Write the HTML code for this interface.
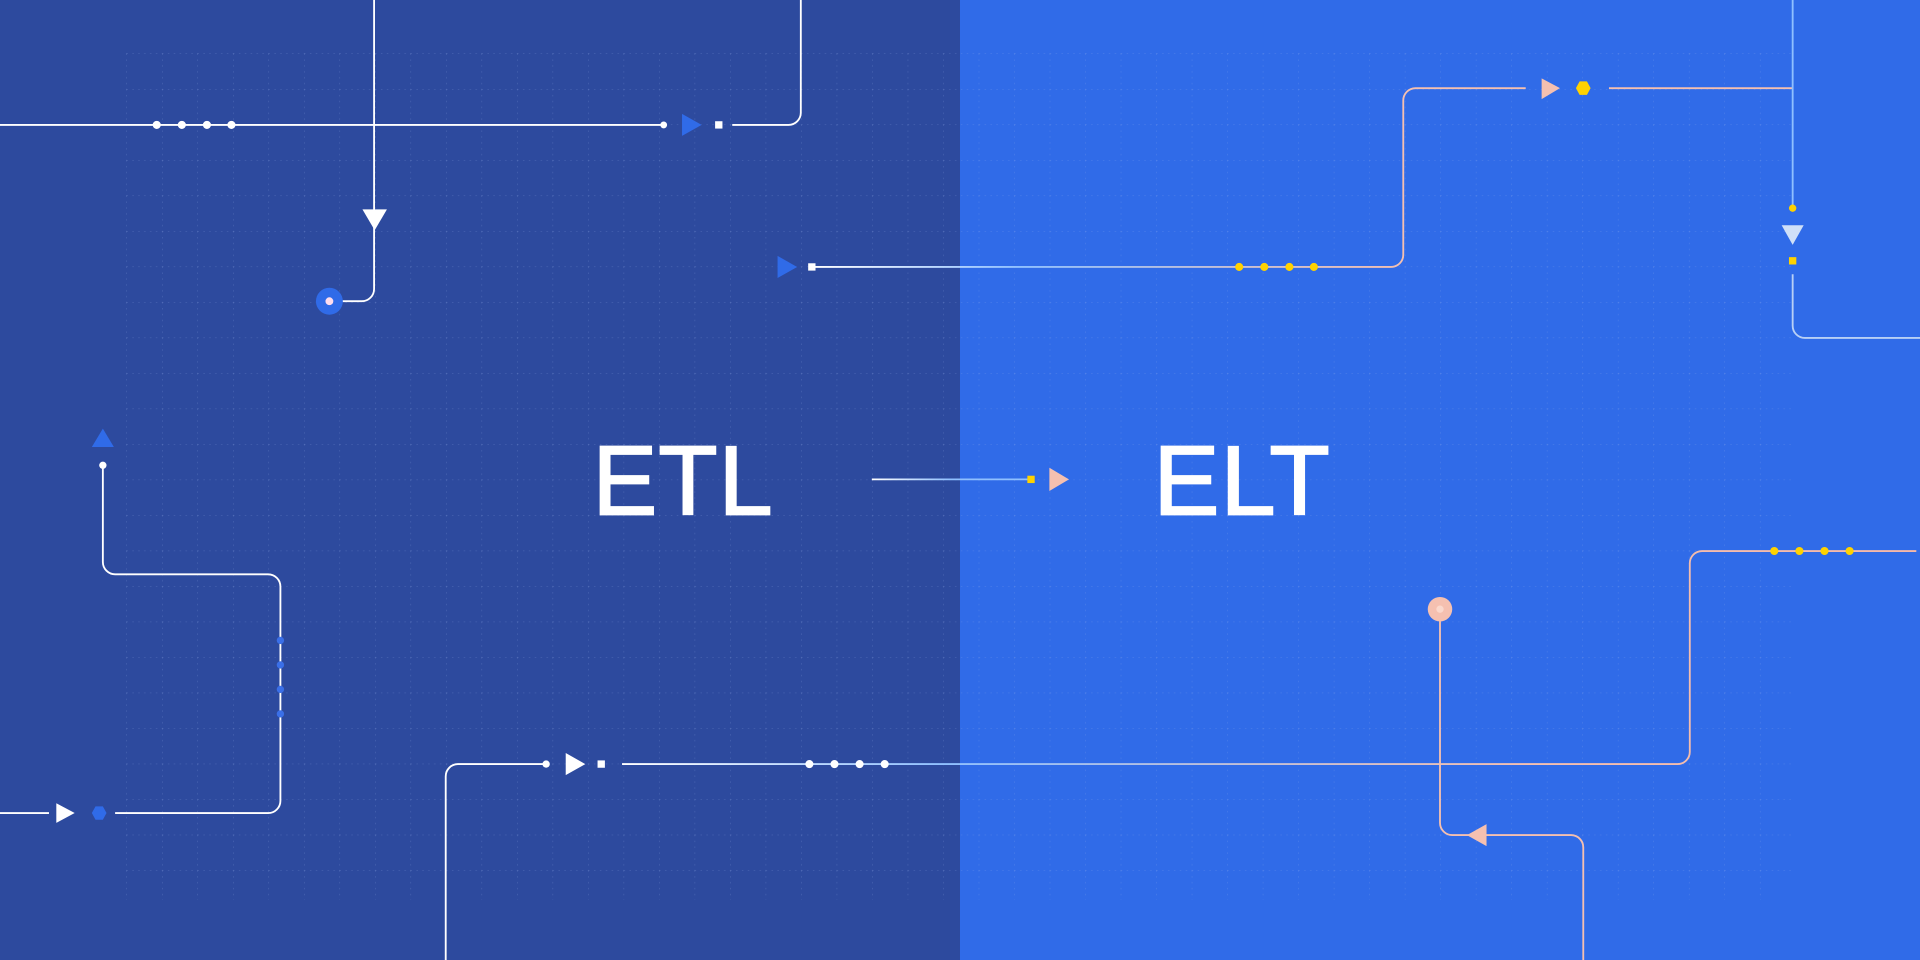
<!DOCTYPE html>
<html><head><meta charset="utf-8"><style>
html,body{margin:0;padding:0;width:1920px;height:960px;overflow:hidden;background:#306be8}
svg{display:block}
</style></head><body>
<svg width="1920" height="960" viewBox="0 0 1568 784" xmlns="http://www.w3.org/2000/svg">
<defs>
<pattern id="gh" x="103.3" y="43.7" width="29" height="29" patternUnits="userSpaceOnUse">
<line x1="0" y1="0" x2="29" y2="0" stroke="#9fb6ee" stroke-width="0.6" stroke-dasharray="1.2 3.6" opacity="0.45"/>
<line x1="0" y1="0" x2="0" y2="29" stroke="#9fb6ee" stroke-width="0.6" stroke-dasharray="1.2 3.6" opacity="0.45"/>
</pattern>
<linearGradient id="g1" gradientUnits="userSpaceOnUse" x1="508" y1="0" x2="1565" y2="0"><stop offset="0" stop-color="#fff"/><stop offset="0.25" stop-color="#8fc0ff"/><stop offset="0.7" stop-color="#f5c0b0"/><stop offset="1" stop-color="#f5b8a8"/></linearGradient>
<linearGradient id="g2" gradientUnits="userSpaceOnUse" x1="664" y1="0" x2="1146" y2="0"><stop offset="0" stop-color="#fff"/><stop offset="0.35" stop-color="#8fc0ff"/><stop offset="1" stop-color="#f5c0b0"/></linearGradient>
<linearGradient id="g3" gradientUnits="userSpaceOnUse" x1="712" y1="0" x2="842" y2="0"><stop offset="0" stop-color="#fff"/><stop offset="0.5" stop-color="#8fc0ff"/><stop offset="1" stop-color="#8fc0ff"/></linearGradient>
</defs>
<rect x="0" y="0" width="784" height="784" fill="#2d4a9e"/>
<rect x="784" y="0" width="784" height="784" fill="#306be8"/>
<rect x="103" y="43" width="1362" height="692" fill="url(#gh)"/>

<g fill="none" stroke-width="1.5">
<line x1="0" y1="102" x2="542" y2="102" stroke="#fff"/>
<path d="M598 102 H644 a10 10 0 0 0 10 -10 V0" stroke="#fff"/>
<path d="M305.5 0 V236 a10 10 0 0 1 -10 10 H275" stroke="#fff"/>
<path d="M664 218 H1136 a10 10 0 0 0 10 -10 V82 a10 10 0 0 1 10 -10 H1246" stroke="url(#g2)"/>
<line x1="1314" y1="72" x2="1464" y2="72" stroke="#f5c0b0"/>
<path d="M1464 0 V170" stroke="#8fc0ff"/>
<path d="M1464 224 V266 a10 10 0 0 0 10 10 H1568" stroke="#b8d0f5"/>
<line x1="712" y1="391.5" x2="842" y2="391.5" stroke="url(#g3)"/>
<path d="M84 380 V459 a10 10 0 0 0 10 10 H219 a10 10 0 0 1 10 10 V654 a10 10 0 0 1 -10 10 H94" stroke="#fff"/>
<line x1="0" y1="664" x2="40" y2="664" stroke="#fff"/>
<path d="M364 784 V634 a10 10 0 0 1 10 -10 H446" stroke="#fff"/>
<path d="M508 624 H1370 a10 10 0 0 0 10 -10 V460 a10 10 0 0 1 10 -10 H1565" stroke="url(#g1)"/>
<path d="M1176 505 V672 a10 10 0 0 0 10 10 H1283 a10 10 0 0 1 10 10 V784" stroke="#f5c0b0"/>
</g>

<g fill="#fff">
<circle cx="128" cy="102" r="3.3"/><circle cx="148.5" cy="102" r="3.3"/><circle cx="169" cy="102" r="3.3"/><circle cx="189" cy="102" r="3.3"/>
<circle cx="542" cy="102" r="2.8"/>
<rect x="584" y="99" width="6" height="6"/>
<polygon points="296,171 316,171 306,188"/>
<rect x="660" y="215" width="6" height="6"/>
<circle cx="84" cy="380" r="3"/>
<polygon points="46,656 46,672 61,664"/>
<circle cx="446" cy="624" r="3"/>
<polygon points="462,615 462,633 478,624"/>
<rect x="488" y="621" width="6" height="6"/>
<circle cx="661" cy="624" r="3.3"/><circle cx="681.5" cy="624" r="3.3"/><circle cx="702" cy="624" r="3.3"/><circle cx="722.5" cy="624" r="3.3"/>
</g>
<polygon points="557,93 557,111 573,102" fill="#306be8"/>
<circle cx="269" cy="246" r="11" fill="#306be8"/><circle cx="269" cy="246" r="3.2" fill="#fde"/>
<polygon points="635,209 635,227 651,218" fill="#306be8"/>
<polygon points="84,350 75,365 93,365" fill="#306be8"/>
<polygon points="75,664 78,658.5 84,658.5 87,664 84,669.5 78,669.5" fill="#306be8"/>
<g fill="#3a6fe8"><circle cx="229" cy="523" r="3"/><circle cx="229" cy="543" r="3"/><circle cx="229" cy="563" r="3"/><circle cx="229" cy="583" r="3"/></g>

<g fill="#ffd200">
<circle cx="1012" cy="218" r="3.3"/><circle cx="1032.5" cy="218" r="3.3"/><circle cx="1053" cy="218" r="3.3"/><circle cx="1073" cy="218" r="3.3"/>
<polygon points="1287,72 1290,66.5 1296,66.5 1299,72 1296,77.5 1290,77.5"/>
<circle cx="1464" cy="170" r="3"/>
<rect x="1461" y="210" width="6" height="6"/>
<rect x="839" y="388.5" width="6" height="6"/>
<circle cx="1449" cy="450" r="3.3"/><circle cx="1469.5" cy="450" r="3.3"/><circle cx="1490" cy="450" r="3.3"/><circle cx="1510.5" cy="450" r="3.3"/>
</g>
<polygon points="1259,64 1259,81 1274,72" fill="#f5c0b0"/>
<polygon points="1455,184 1473,184 1464,200" fill="#cfe0f8"/>
<polygon points="857,382 857,401 873,391.5" fill="#f5c0b0"/>
<circle cx="1176" cy="497.5" r="10" fill="#f5c0b0"/><circle cx="1176" cy="497.5" r="3" fill="#fbd8cc"/>
<polygon points="1214,673 1214,691 1198,682" fill="#f5c0b0"/>

<g font-family="Liberation Sans, sans-serif" font-size="80" fill="#fff" stroke="#fff" stroke-width="1.5" letter-spacing="1">
<text x="484" y="420" textLength="148" lengthAdjust="spacingAndGlyphs">ETL</text>
<text x="942" y="420" textLength="145" lengthAdjust="spacingAndGlyphs">ELT</text>
</g>
</svg>
</body></html>
